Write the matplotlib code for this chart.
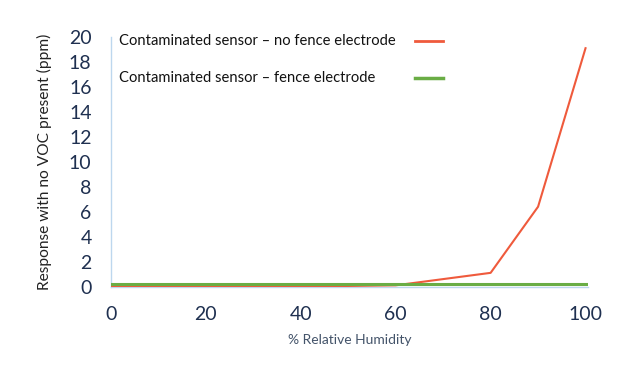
import matplotlib
matplotlib.use("Agg")
import matplotlib.pyplot as plt
from matplotlib.lines import Line2D

plt.rcParams['font.family'] = ['Lato', 'DejaVu Sans']

humidity = [0, 10, 20, 30, 40, 50, 60, 70, 80, 90, 100]
no_fence = [0.05, 0.05, 0.05, 0.05, 0.05, 0.05, 0.1, 0.6, 1.1, 6.4, 19.1]
fence = [0.18, 0.18, 0.18, 0.18, 0.18, 0.18, 0.18, 0.18, 0.18, 0.18, 0.18]
labels = ["Contaminated sensor \u2013 no fence electrode",
          "Contaminated sensor \u2013 fence electrode"]
xticks = [0, 20, 40, 60, 80, 100]
yticks = [0, 2, 4, 6, 8, 10, 12, 14, 16, 18, 20]

red = "#ef5a3c"
green = "#6aad45"
axis_col = "#bdd7ee"
tick_col = "#1f3050"

fig = plt.figure(figsize=(6.2, 3.66), dpi=100)
ax = fig.add_axes([0.179, 0.217, 0.77, 0.682])
ax.plot(humidity, no_fence, color=red, lw=1.5, zorder=2)
ax.plot(humidity, fence, color=green, lw=2.2, zorder=3)
ax.set_xlim(0, 100.6)
ax.set_ylim(0, 20)
ax.set_xticks(xticks)
ax.set_yticks(yticks)
for s in ["top", "right"]:
    ax.spines[s].set_visible(False)
for s in ["left", "bottom"]:
    ax.spines[s].set_color(axis_col)
    ax.spines[s].set_linewidth(1)
    ax.spines[s].set_zorder(1)
ax.tick_params(length=0, labelsize=14, colors=tick_col)
ax.tick_params(axis='x', pad=14)
ax.tick_params(axis='y', pad=14)
ax.set_xlabel("% Relative Humidity", fontsize=10, color="#44546a", labelpad=8)
ax.set_ylabel("Response with no VOC present (ppm)", fontsize=11.2, color="#222222", labelpad=12)

# legend: left-aligned text with line samples to the right
leg_colors = [red, green]
leg_widths = [2, 2.5]
leg_y = [0.984, 0.836]
for lab, col, lw, yy in zip(labels, leg_colors, leg_widths, leg_y):
    ax.text(0.017, yy, lab, transform=ax.transAxes, fontsize=10.6,
            color="#111111", va="center", ha="left")
    ax.add_line(Line2D([0.637, 0.696], [yy, yy], transform=ax.transAxes,
                       color=col, lw=lw, clip_on=False))

fig.savefig("out.png", dpi=100)
